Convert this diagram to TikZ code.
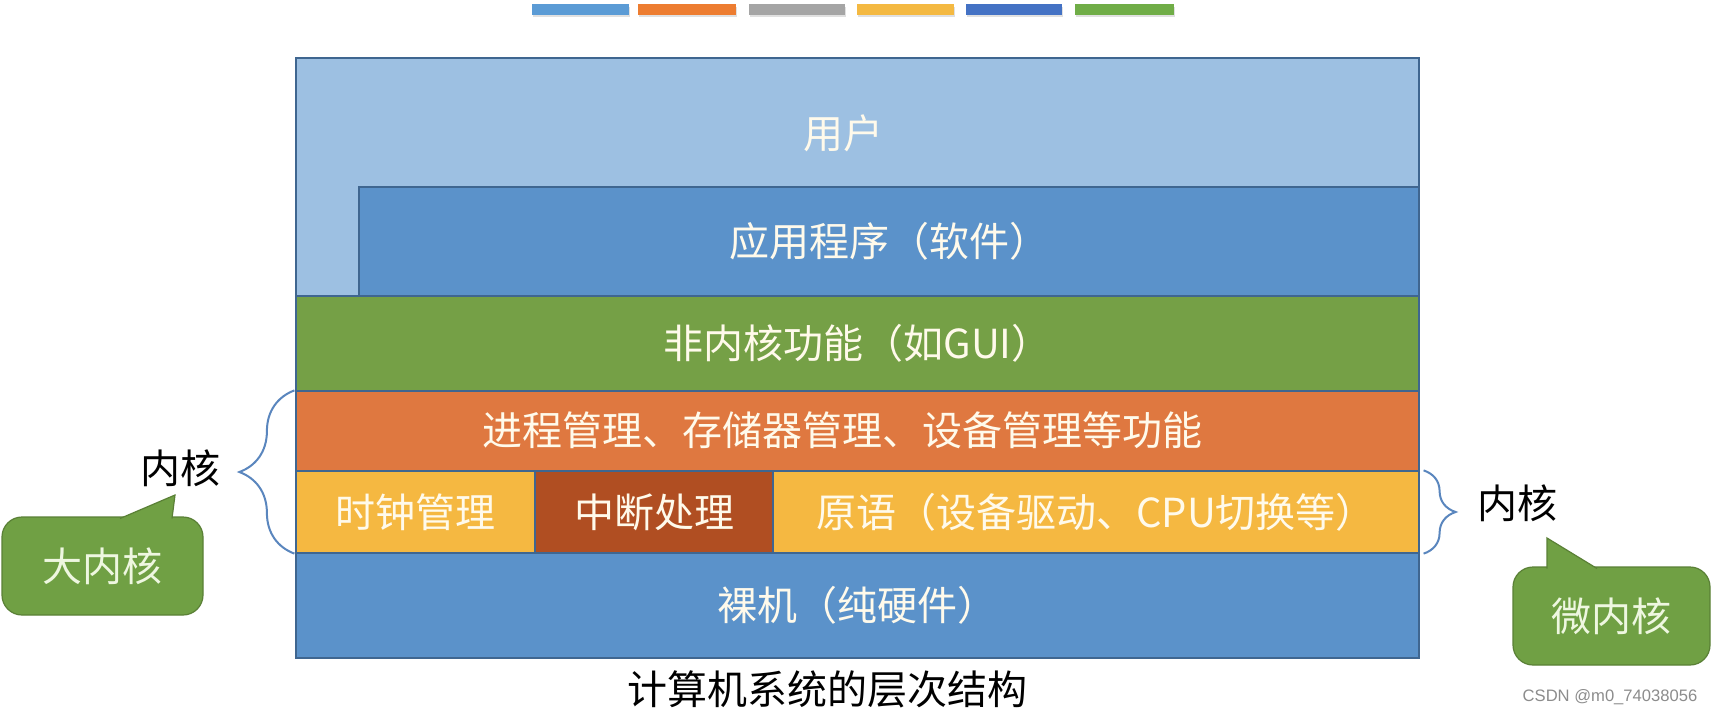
\documentclass[tikz,border=0pt]{standalone}
\usepackage{fontspec}
\newfontfamily\cjk{Noto Sans CJK SC}
\newfontfamily\wmfont{Liberation Sans}
\usetikzlibrary{positioning,fit,decorations.pathreplacing}
\definecolor{userF}{RGB}{157,192,226}
\definecolor{appF}{RGB}{91,146,202}
\definecolor{nkF}{RGB}{117,160,70}
\definecolor{procF}{RGB}{223,120,64}
\definecolor{ylwF}{RGB}{245,184,65}
\definecolor{intF}{RGB}{176,78,34}
\definecolor{bareF}{RGB}{91,146,202}
\definecolor{boxL}{RGB}{63,102,144}
\definecolor{txtW}{RGB}{255,250,235}
\definecolor{brc}{RGB}{90,134,190}
\definecolor{bubF}{RGB}{112,160,68}
\definecolor{bubT}{RGB}{238,247,224}
\definecolor{barA}{RGB}{91,155,213}
\definecolor{barB}{RGB}{237,125,49}
\definecolor{barC}{RGB}{165,165,165}
\definecolor{barD}{RGB}{244,185,66}
\definecolor{barE}{RGB}{68,114,196}
\definecolor{barF}{RGB}{112,173,71}

\begin{document}
\begin{tikzpicture}[
  x=0.5pt, y=-0.5pt,
  font=\cjk\fontsize{20pt}{24pt}\selectfont,
  layer/.style={draw=boxL, line width=0.6pt, fill=#1, inner sep=0pt},
  ltext/.style={label={[text=txtW]center:#1}},
  bubble/.style={rounded corners=10pt, draw=bubF!80!black, line width=0.6pt, fill=bubF, inner sep=0pt},
  btext/.style={label={[text=bubT]center:#1}},
  tail/.style={draw=bubF!80!black, line width=0.6pt, fill=bubF},
  brace/.style={decorate, decoration={brace, amplitude=#1}, draw=brc, line width=1pt},
  klabel/.style={text=black},
]
\useasboundingbox[fill=white] (0,0) rectangle (1712,725);

% ---- colour strip at the top ----
\foreach \c/\xa/\xb in {barA/532/629, barB/638/736, barC/749/845, barD/857/954, barE/966/1062, barF/1075/1174}{
  \fill[black!12] (\xa+1,7) rectangle (\xb+1,17);
  \fill[\c] (\xa,4) rectangle (\xb,15);
}

% ---- layers ----
\node[layer=userF, fit={(296,58) (1419,296)}] (user) {};
\node[layer=appF,  fit={(359,187) (1419,296)}, ltext=应用程序（软件）] (app) {};
\node[text=txtW] (userT) at (843,133) {用户};
\node[layer=nkF,   fit={(296,296) (1419,391)}, ltext=非内核功能（如GUI）] (nk) {};
\node[layer=procF, fit={(296,391) (1419,471)}] (proc) {};
\node[text=txtW] (procT) at (842,430) {进程管理、存储器管理、设备管理等功能};
\node[layer=ylwF,  fit={(296,471) (535,553)}, ltext=时钟管理] (clock) {};
\node[layer=intF,  fit={(535,471) (773,553)}, ltext=中断处理] (intr) {};
\node[layer=ylwF,  fit={(773,471) (1419,553)}, ltext=原语（设备驱动、CPU切换等）] (prim) {};
\node[layer=bareF, fit={(296,553) (1419,658)}, ltext=裸机（纯硬件）] (bare) {};
\node (cap) at (827,689) {计算机系统的层次结构};

% ---- kernel braces ----
\draw[brace=27.5pt] ([xshift=-0.5pt]clock.south west) -- ([xshift=-0.5pt]proc.north west);
\node[klabel] (kL) at (180,468) {内核};
\draw[brace=16pt] ([xshift=2pt]prim.north east) -- ([xshift=2pt]prim.south east);
\node[klabel] (kR) at (1517,503) {内核};

% ---- callouts ----
\node[bubble, fit={(2,517) (203,615)}, btext=大内核] (big) {};
\draw[tail] (120,518.5) -- (175,495) -- (172,518.5);
\node[bubble, fit={(1513,567) (1710,665)}, btext=微内核] (micro) {};
\draw[tail] (1547,568.5) -- (1547,538) -- (1597,568.5);

% ---- watermark ----
\node[font=\wmfont\fontsize{8.3pt}{10pt}\selectfont, text=black!45] (wm) at (1610,697) {CSDN @m0\_74038056};

\end{tikzpicture}
\end{document}
